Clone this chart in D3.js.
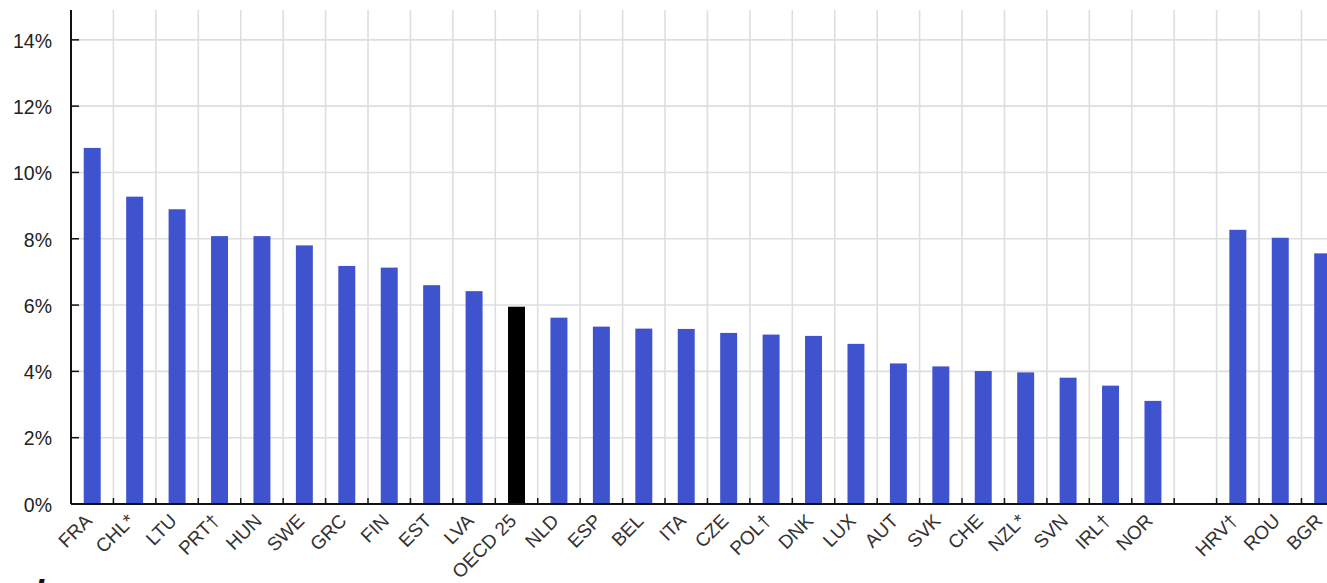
<!DOCTYPE html>
<html>
<head>
<meta charset="utf-8">
<script src="https://cdn.jsdelivr.net/npm/d3@7"></script>
<style>
  html, body { margin: 0; padding: 0; background: #fff; }
  svg { display: block; }
  text { font-family: "Liberation Sans", Arial, sans-serif; }
</style>
</head>
<body>
<svg id="chart" width="1327" height="583"></svg>
<script>
// ---- data ----
const categories = ["FRA","CHL*","LTU","PRT†","HUN","SWE","GRC","FIN","EST","LVA","OECD 25",
  "NLD","ESP","BEL","ITA","CZE","POL†","DNK","LUX","AUT","SVK","CHE","NZL*","SVN","IRL†","NOR",
  "", "HRV†","ROU","BGR"];
const values = [10.74, 9.27, 8.89, 8.08, 8.08, 7.80, 7.18, 7.13, 6.60, 6.42, 5.95,
  5.62, 5.35, 5.29, 5.28, 5.16, 5.11, 5.07, 4.83, 4.24, 4.15, 4.01, 3.97, 3.81, 3.57, 3.11,
  null, 8.27, 8.03, 7.56];
const highlight = ["OECD 25"];
const yTicks = [0, 2, 4, 6, 8, 10, 12, 14];
const yTickLabels = ["0%","2%","4%","6%","8%","10%","12%","14%"];

// ---- layout ----
const svg = d3.select("#chart");
const W = 1327;
const mLeft = 71, mBase = 504, mTop = 10;
const slot = 42.43;

const x = d3.scaleBand()
  .domain(categories.map((c, i) => i))
  .range([mLeft, mLeft + slot * categories.length])
  .paddingInner(0.6).paddingOuter(0.3);

const y = d3.scaleLinear().domain([0, 14.9]).range([mBase, mTop]);

// vertical gridlines at slot boundaries
const bounds = categories.map((c, i) => x(i) + x.bandwidth() / 2 + x.step() / 2);
svg.append("g").selectAll("line").data(bounds).join("line")
  .attr("x1", d => d).attr("x2", d => d)
  .attr("y1", mTop).attr("y2", mBase)
  .attr("stroke", "#dedede").attr("stroke-width", 1.6);

// horizontal gridlines
svg.append("g").selectAll("line").data(yTicks.filter(t => t > 0)).join("line")
  .attr("x1", mLeft).attr("x2", W)
  .attr("y1", d => y(d)).attr("y2", d => y(d))
  .attr("stroke", "#dedede").attr("stroke-width", 1.6);

// bars
const barData = categories.map((c, i) => ({ c, i, v: values[i] })).filter(d => d.v != null);
svg.append("g").selectAll("rect").data(barData).join("rect")
  .attr("x", d => x(d.i))
  .attr("width", x.bandwidth())
  .attr("y", d => y(d.v))
  .attr("height", d => mBase - y(d.v))
  .attr("fill", d => highlight.includes(d.c) ? "#000000" : "#4053cf");

// x axis
const xAxis = svg.append("g");
xAxis.append("line")
  .attr("x1", mLeft).attr("x2", W).attr("y1", mBase).attr("y2", mBase)
  .attr("stroke", "#111").attr("stroke-width", 2);
xAxis.selectAll("line.tick").data(bounds).join("line").attr("class", "tick")
  .attr("x1", d => d).attr("x2", d => d)
  .attr("y1", mBase).attr("y2", mBase - 6)
  .attr("stroke", "#111").attr("stroke-width", 1.5);
xAxis.selectAll("text").data(categories.map((c, i) => ({ c, i })).filter(d => d.c !== "")).join("text")
  .attr("transform", d => `translate(${x(d.i) + x.bandwidth() / 2 + 1},${mBase + 18}) rotate(-45)`)
  .attr("text-anchor", "end")
  .attr("font-size", 19)
  .attr("fill", "#333")
  .text(d => d.c);

// y axis
const yAxis = svg.append("g");
yAxis.append("line")
  .attr("x1", mLeft).attr("x2", mLeft).attr("y1", mTop).attr("y2", mBase)
  .attr("stroke", "#111").attr("stroke-width", 2);
yAxis.selectAll("line.tick").data(yTicks).join("line").attr("class", "tick")
  .attr("x1", mLeft).attr("x2", mLeft + 8)
  .attr("y1", d => y(d)).attr("y2", d => y(d))
  .attr("stroke", "#111").attr("stroke-width", 1.5);
yAxis.selectAll("text").data(yTicks).join("text")
  .attr("x", 52).attr("y", d => y(d))
  .attr("dy", "0.4em")
  .attr("text-anchor", "end")
  .attr("font-size", 19.5)
  .attr("fill", "#222")
  .text((d, i) => yTickLabels[i]);

// clipped caption fragment at bottom
svg.append("text")
  .attr("x", 34).attr("y", 606)
  .attr("font-size", 36).attr("font-weight", "bold").attr("font-style", "italic")
  .attr("fill", "#111")
  .text("l");
</script>
</body>
</html>
